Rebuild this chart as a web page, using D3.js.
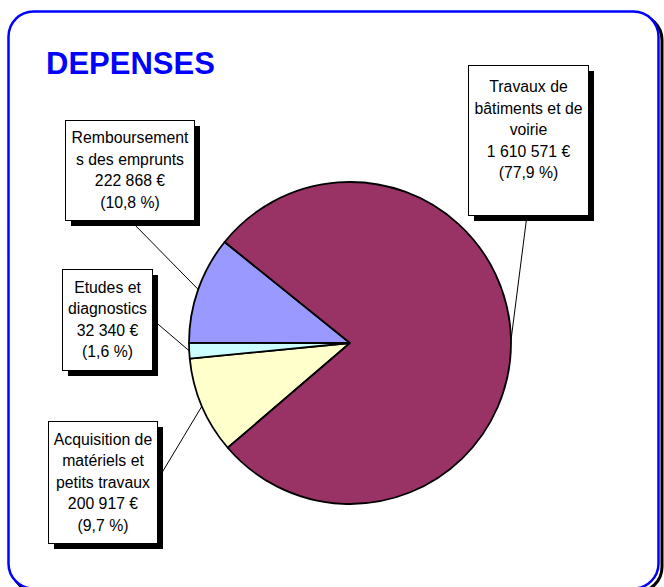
<!DOCTYPE html>
<html><head><meta charset="utf-8">
<script src="https://cdn.jsdelivr.net/npm/d3@7"></script>
<style>html,body{margin:0;padding:0;background:#fff;}svg{display:block;}</style>
</head><body>
<script>
// ---- data ----
const categories = ["Acquisition de matériels et petits travaux", "Etudes et diagnostics", "Remboursements des emprunts", "Travaux de bâtiments et de voirie"];
const labelLines = [["Acquisition de","matériels et","petits travaux"],["Etudes et","diagnostics"],["Remboursement","s des emprunts"],["Travaux de","bâtiments et de","voirie"]];
const values = [200917, 32340, 222868, 1610571];
const colors = ["#FFFFCC", "#CCFFFF", "#9999FF", "#993366"];
const title = "DEPENSES";

// ---- layout ----
const W = 664, H = 587;
const cx = 350, cy = 343, R = 161;
const startDeg = 229.4;
const boxes = [
  {x:48, y:421, w:109, h:122, lx:157, ly:481, top:null},
  {x:62, y:269, w:90, h:101, lx:152, ly:319, top:null},
  {x:65, y:120, w:129, h:100, lx:130, ly:220, top:null},
  {x:468, y:65, w:120, h:150, lx:527, ly:215, top:92}
];
const fs = 15.8, lh = 21.5;

const loc = d3.formatLocale({decimal:",", thousands:"\u00a0", grouping:[3], currency:["",""]});
const fmtInt = loc.format(",d");
const fmtPct = loc.format(".1f");
const total = d3.sum(values);

const svg = d3.select("body").append("svg").attr("width", W).attr("height", H)
  .style("font-family", "'Liberation Sans', Arial, sans-serif");

// frame
svg.append("rect").attr("x", 12).attr("y", 15).attr("width", 650).attr("height", 577)
  .attr("rx", 25).attr("fill", "none").attr("stroke", "#000").attr("stroke-width", 3);
svg.append("rect").attr("x", 8.5).attr("y", 11.5).attr("width", 650).attr("height", 577)
  .attr("rx", 25).attr("fill", "#fff").attr("stroke", "#0000FF").attr("stroke-width", 2.5);

svg.append("text").attr("x", 46).attr("y", 74).attr("fill", "#0000FF")
  .attr("font-weight", "bold").attr("font-size", 31).text(title);

const pie = d3.pie().sort(null).value(d => d)
  .startAngle(startDeg * Math.PI / 180).endAngle(startDeg * Math.PI / 180 + 2 * Math.PI);
const arcs = pie(values);
const arc = d3.arc().innerRadius(0).outerRadius(R);
const edge = d3.arc().innerRadius(R).outerRadius(R);

const g = svg.append("g").attr("transform", `translate(${cx},${cy})`);

// leader lines
arcs.forEach((a, i) => {
  const [ex, ey] = edge.centroid(a);
  svg.append("line").attr("x1", boxes[i].lx).attr("y1", boxes[i].ly)
    .attr("x2", cx + ex).attr("y2", cy + ey).attr("stroke", "#000").attr("stroke-width", 1);
});

g.selectAll("path").data(arcs).join("path").attr("d", arc)
  .attr("fill", (d, i) => colors[i]).attr("stroke", "#000").attr("stroke-width", 1.8)
  .attr("stroke-linejoin", "round");

// label boxes
arcs.forEach((a, i) => {
  const b = boxes[i];
  svg.append("rect").attr("x", b.x + 6).attr("y", b.y + 6).attr("width", b.w).attr("height", b.h).attr("fill", "#000");
  svg.append("rect").attr("x", b.x + 0.5).attr("y", b.y + 0.5).attr("width", b.w).attr("height", b.h)
    .attr("fill", "#fff").attr("stroke", "#000").attr("stroke-width", 1);
  const lines = labelLines[i].concat([fmtInt(values[i]) + " \u20ac", "(" + fmtPct(values[i] / total * 100) + " %)"]);
  const n = lines.length;
  const first = b.top != null ? b.top : b.y + b.h / 2 - (n - 1) / 2 * lh + 0.35 * fs;
  const t = svg.append("text").attr("font-size", fs).attr("text-anchor", "middle").attr("fill", "#000");
  lines.forEach((s, k) => {
    t.append("tspan").attr("x", b.x + b.w / 2 + 0.5).attr("y", first + k * lh).text(s);
  });
});
</script>
</body></html>
